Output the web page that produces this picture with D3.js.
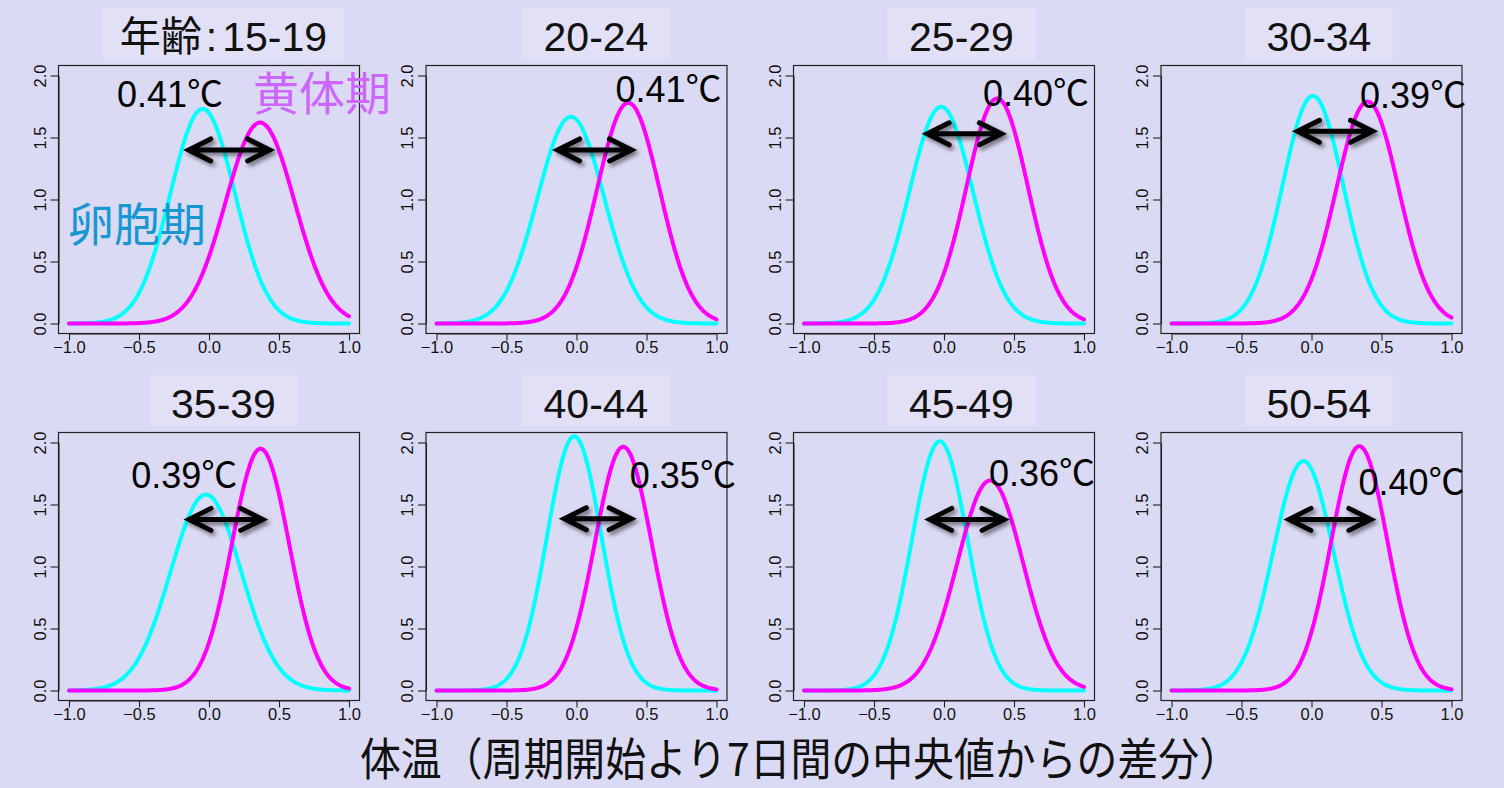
<!DOCTYPE html>
<html>
<head>
<meta charset="utf-8">
<script src="https://cdn.jsdelivr.net/npm/d3@7"></script>
<style>
  html, body { margin: 0; padding: 0; background: #dbdaf4; }
  svg { display: block; }
  .axis text { font-family: 'Liberation Sans', Arial, sans-serif; font-size: 16.5px; fill: #111; }
</style>
</head>
<body>
<svg id="chart" width="1504" height="788"></svg>
<script>
// Age groups, one panel each
const panelTitles = ["年齢:15-19", "20-24", "25-29", "30-34", "35-39", "40-44", "45-49", "50-54"];

// Shift of the luteal-phase mean above the follicular-phase mean (°C)
const phaseShift = [0.41, 0.41, 0.40, 0.39, 0.39, 0.35, 0.36, 0.40];

// Fitted normal curves: follicular phase (cyan)
const follicularMean = [-0.045, -0.04, -0.02, 0.01, -0.022, -0.016, -0.03, -0.058];
const follicularSd   = [0.2306, 0.2393, 0.2283, 0.2173, 0.2525, 0.1946, 0.1985, 0.2156];

// Fitted normal curves: luteal phase (magenta); mean = follicular mean + shift
const lutealSd       = [0.2462, 0.2241, 0.2198, 0.2229, 0.2046, 0.2030, 0.2355, 0.2025];

// Axis ticks
const xTicks = [-1.0, -0.5, 0.0, 0.5, 1.0];
const yTicks = [0.0, 0.5, 1.0, 1.5, 2.0];

// ---- layout ----
const colLeft = [58.5, 426, 793.5, 1161];
const rowTop = [65.5, 432.5];
const boxW = 301, boxH = 268;
const titleDx = [14.5, 19.5, 17.5, 7.5];

// double arrow placement per panel: [from, to, height] in data units
const arrowPlace = [
  [-0.145, 0.433, 1.40], [-0.135, 0.393, 1.40], [-0.12, 0.41, 1.53], [-0.10, 0.436, 1.55],
  [-0.143, 0.383, 1.38], [-0.087, 0.39, 1.385], [-0.102, 0.429, 1.38], [-0.161, 0.424, 1.38]
];
// shift label placement per panel: [left x, baseline y] in data units
const labelPlace = [
  [-0.657, 1.742], [0.278, 1.787], [0.279, 1.753], [0.347, 1.734],
  [-0.556, 1.63], [0.381, 1.63], [0.321, 1.648], [0.336, 1.573]
];

const svg = d3.select("#chart");
const latin = "'Liberation Sans', Arial, 'Noto Sans CJK JP', sans-serif";
const cjk = "'Noto Sans CJK JP', 'Noto Sans CJK SC', sans-serif";

// soft shadow under the arrows
const defs = svg.append("defs");
const f = defs.append("filter").attr("id", "shadow")
  .attr("x", "-20%").attr("y", "-50%").attr("width", "140%").attr("height", "200%");
f.append("feDropShadow").attr("dx", 2.5).attr("dy", 3).attr("stdDeviation", 2.2)
  .attr("flood-color", "#000").attr("flood-opacity", 0.5);

function normalPdf(x, mu, sd) {
  const z = (x - mu) / sd;
  return Math.exp(-0.5 * z * z) / (sd * Math.sqrt(2 * Math.PI));
}

const grid = d3.range(0, 401).map(i => -1 + i * 0.005);
const fmt = d3.format(".1f");

panelTitles.forEach((title, i) => {
  const col = i % 4, row = Math.floor(i / 4);
  const L = colLeft[col], T = rowTop[row];
  const x = d3.scaleLinear().domain([-1, 1]).range([L + 10.5, L + boxW - 10.5]);
  const y = d3.scaleLinear().domain([0, 2]).range([T + boxH - 10, T + 10]);
  const g = svg.append("g");

  // title with lighter backing box
  const tx = L + boxW / 2 + titleDx[col];
  const tg = g.append("g");
  const bg = tg.append("rect").attr("fill", "#e1e0f6");
  const t = tg.append("text")
    .attr("x", tx).attr("y", T - 14.5)
    .attr("text-anchor", "middle")
    .style("font-family", latin).style("font-size", "41px").attr("fill", "#111");
  if (title.includes(":")) {
    const [a, b] = title.split(":");
    t.append("tspan").style("font-family", cjk).text(a);
    t.append("tspan").attr("dx", 4).text(":");
    t.append("tspan").attr("dx", 5).text(b);
  } else {
    t.text(title);
  }
  const tw = t.node().getComputedTextLength();
  bg.attr("x", tx - tw / 2 - 21.5).attr("width", tw + 43)
    .attr("y", T - 57.5).attr("height", 51.5);

  // frame
  g.append("rect").attr("x", L).attr("y", T).attr("width", boxW).attr("height", boxH)
    .attr("fill", "none").attr("stroke", "#222").attr("stroke-width", 1.2);

  // x axis
  const xa = g.append("g").attr("class", "axis").attr("transform", `translate(0,${T + boxH})`)
    .call(d3.axisBottom(x).tickValues(xTicks).tickSize(7).tickSizeOuter(0)
      .tickPadding(1).tickFormat(fmt));
  // y axis with rotated labels
  const ya = g.append("g").attr("class", "axis").attr("transform", `translate(${L},0)`)
    .call(d3.axisLeft(y).tickValues(yTicks).tickSize(8).tickSizeOuter(0).tickFormat(fmt));
  ya.selectAll(".tick text")
    .attr("x", 0).attr("y", -13).attr("dy", 0)
    .attr("text-anchor", "middle").attr("transform", "rotate(-90)");
  [xa, ya].forEach(a => {
    a.attr("font-size", 16.5).attr("font-family", latin);
    a.selectAll("path, line").attr("stroke", "#222").attr("stroke-width", 1.1);
  });

  // density curves
  const line = d3.line().x(d => x(d[0])).y(d => y(d[1]));
  const muF = follicularMean[i], muL = follicularMean[i] + phaseShift[i];
  g.append("path")
    .datum(grid.map(v => [v, normalPdf(v, muF, follicularSd[i])]))
    .attr("d", line).attr("fill", "none").attr("stroke", "#00ffff")
    .attr("stroke-width", 4).attr("stroke-linecap", "round");
  g.append("path")
    .datum(grid.map(v => [v, normalPdf(v, muL, lutealSd[i])]))
    .attr("d", line).attr("fill", "none").attr("stroke", "#ff00ff")
    .attr("stroke-width", 4).attr("stroke-linecap", "round");

  // double-headed arrow
  const [a0, a1, ay] = arrowPlace[i];
  const x0 = x(a0), x1 = x(a1), yy = y(ay);
  const hx = 22, hy = 11;
  g.append("path")
    .attr("d", `M${x0 + hx},${yy - hy}L${x0},${yy}L${x0 + hx},${yy + hy}` +
               `M${x0},${yy}L${x1},${yy}` +
               `M${x1 - hx},${yy - hy}L${x1},${yy}L${x1 - hx},${yy + hy}`)
    .attr("fill", "none").attr("stroke", "#000").attr("stroke-width", 5)
    .attr("stroke-linejoin", "miter").attr("stroke-linecap", "round")
    .attr("filter", "url(#shadow)");

  // shift label
  const [lx, lb] = labelPlace[i];
  g.append("text").attr("x", x(lx)).attr("y", y(lb))
    .style("font-family", latin).style("font-size", "36px").attr("fill", "#000")
    .text(phaseShift[i].toFixed(2) + "℃");

  // phase names in the first panel
  if (i === 0) {
    g.append("text").attr("x", L + 194.5).attr("y", T + 44.5)
      .style("font-family", cjk).style("font-size", "46px").attr("fill", "#cc66ff")
      .text("黄体期");
    g.append("text").attr("x", L + 9.5).attr("y", T + 175.5)
      .style("font-family", cjk).style("font-size", "46px").attr("fill", "#1797d1")
      .text("卵胞期");
  }
});

// common x-axis title
svg.append("text")
  .attr("x", 360).attr("y", 776)
  .attr("textLength", 880).attr("lengthAdjust", "spacingAndGlyphs")
  .style("font-family", cjk).style("font-size", "45px").attr("fill", "#111")
  .text("体温（周期開始より7日間の中央値からの差分）");
</script>
</body>
</html>
